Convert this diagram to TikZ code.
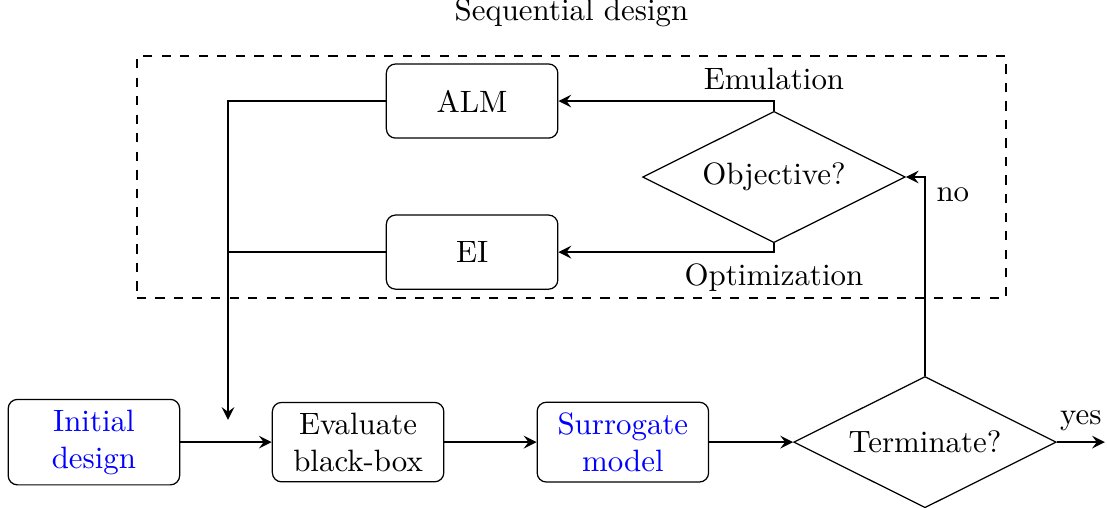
\documentclass[tikz,border=0pt]{standalone}
\usetikzlibrary{shapes.geometric,positioning}

\tikzset{
  block/.style={draw, rounded corners=3pt, align=center, minimum width=55.5pt, minimum height=24pt},
  decision/.style={draw, diamond, aspect=2, inner sep=1pt, minimum width=85pt, minimum height=42.5pt},
  arr/.style={thick, ->, >=stealth},
  surrtext/.style={text=blue},
}

\begin{document}
\begin{tikzpicture}
  \useasboundingbox (0pt,0pt) rectangle (358.3pt,164.1pt);

  % sequential design part
  \node[draw, thick, dashed, minimum width=281.3pt, minimum height=78.4pt] (seq) at (184.95pt,106.8pt) {};
  \node[above=5.5pt] (seqlabel) at (seq.north) {Sequential design};
  \node[block] (alm) at (152.8pt,131.4pt) {ALM};
  \node[block] (ei) at (152.8pt,82.5pt) {EI};
  \node[decision] (obj) at (250.5pt,106.8pt) {Objective?};

  % main loop
  \node[block, surrtext] (init) at (30.4pt,21pt) {Initial\\design};
  \node[block] (eval) at (115.9pt,21pt) {Evaluate\\black-box};
  \node[block, surrtext] (surr) at (201.6pt,21pt) {Surrogate\\model};
  \node[decision] (term) at (299.4pt,21pt) {Terminate?};

  \coordinate (branch) at (73.8pt,28.2pt);
  \coordinate (done) at (357.6pt,21pt);

  \draw[arr] (init) -- (eval);
  \draw[arr] (eval) -- (surr);
  \draw[arr] (surr) -- (term);
  \draw[arr] (term.east) -- node[above] {yes} (done);
  \draw[arr] (term.north) |- node[pos=0.455, right] {no} (obj.east);
  \draw[arr] (obj.north) |- node[pos=0.5, above] {Emulation} (alm.east);
  \draw[arr] (obj.south) |- node[pos=0.5, below] {Optimization} (ei.east);
  \draw[arr] (alm.west) -| (branch);
  \draw[thick] (ei.west) -- (ei.west -| branch);
\end{tikzpicture}
\end{document}
